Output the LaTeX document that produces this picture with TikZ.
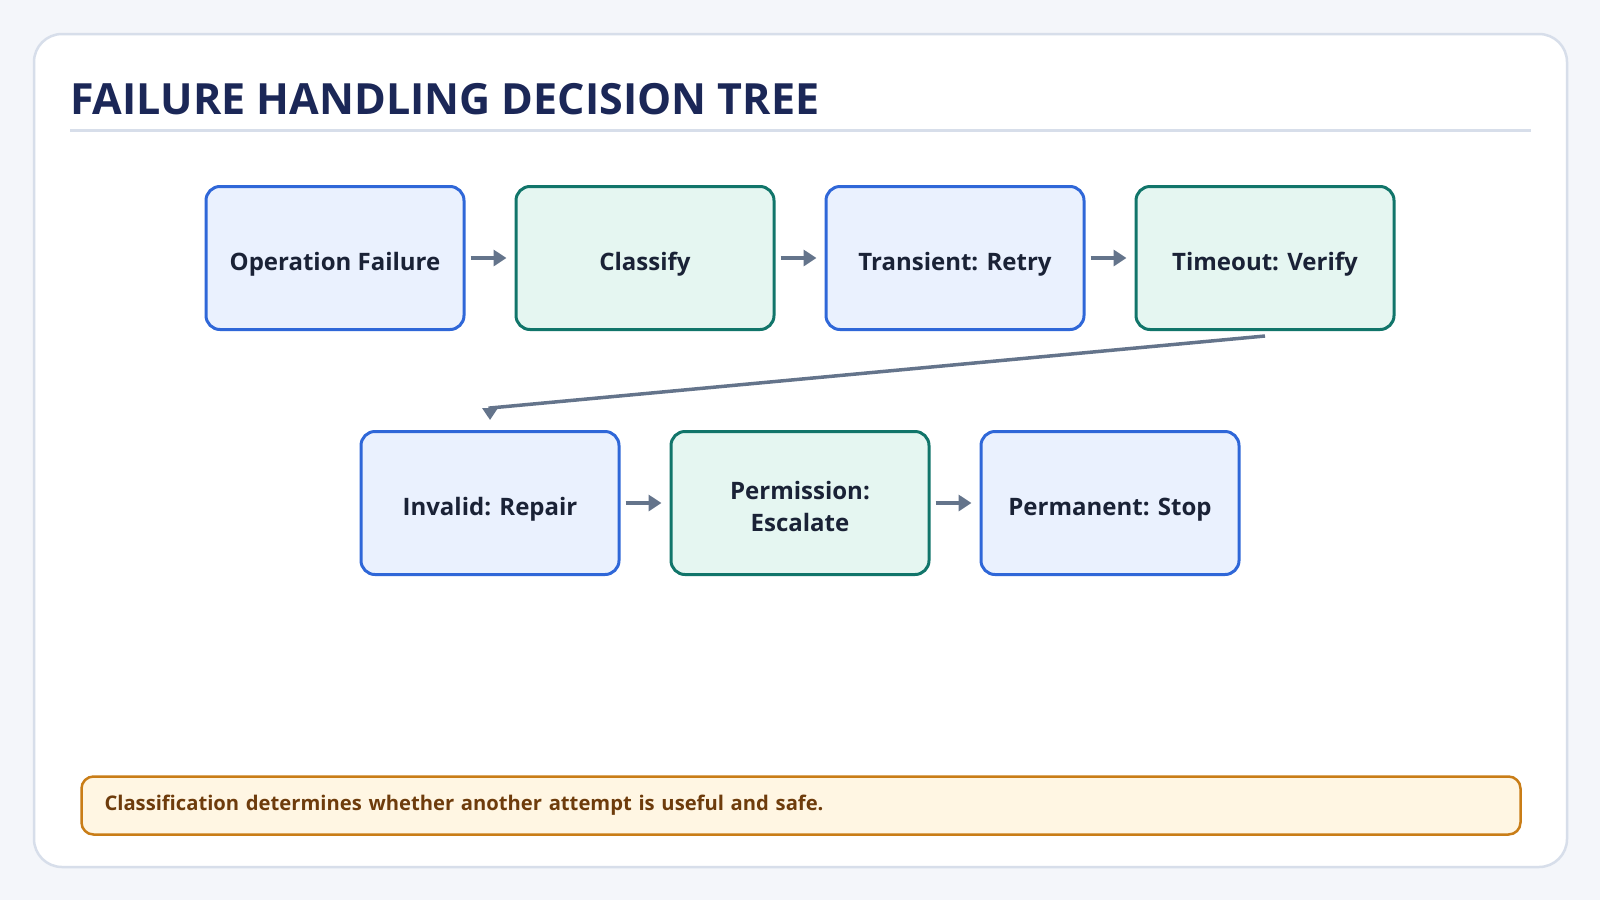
\documentclass[tikz,border=0pt]{standalone}
\usepackage{fontspec}
\setmainfont{Open Sans}
\usepackage{tikz}
\usetikzlibrary{arrows.meta,positioning,calc}

\definecolor{pagebg}{HTML}{F4F6FA}
\definecolor{cardline}{HTML}{D7DEEA}
\definecolor{titleink}{HTML}{1B2757}
\definecolor{blueline}{HTML}{2F67D8}
\definecolor{bluefill}{HTML}{EAF1FE}
\definecolor{tealline}{HTML}{11756A}
\definecolor{tealfill}{HTML}{E5F6F1}
\definecolor{flowink}{HTML}{64748B}
\definecolor{boxink}{HTML}{1A2236}
\definecolor{notefill}{HTML}{FFF6E3}
\definecolor{noteline}{HTML}{C97D17}
\definecolor{noteink}{HTML}{6E3C0C}

\tikzset{
  stage/.style={draw, line width=3pt, rounded corners=14pt, minimum width=258pt,
    minimum height=143pt, align=center, text=boxink, text height=24pt, text depth=0pt,
    font=\fontsize{24}{32}\selectfont\bfseries},
  bluestage/.style={stage, draw=blueline, fill=bluefill},
  tealstage/.style={stage, draw=tealline, fill=tealfill},
  flow/.style={-{Triangle[length=13pt,width=16pt]}, line width=4pt, draw=flowink,
    shorten <=5pt, shorten >=8pt},
}

\begin{document}
\begin{tikzpicture}[x=1pt, y=-1pt, node distance=49pt]
    % Page and card
    \fill[pagebg] (0,0) rectangle (1600,900);
    \draw[cardline, line width=2.5pt, fill=white, rounded corners=28pt] (34,34) rectangle (1567,867);
    \useasboundingbox (0,0) rectangle (1600,900);

    % Title and rule
    \node[anchor=base west, inner sep=0pt, text=titleink, font=\fontsize{43}{50}\selectfont\bfseries] (title) at (70,114) {FAILURE HANDLING DECISION TREE};
    \draw[cardline, line width=3pt] (70,130) -- (1531,130);

    % First row
    \node[bluestage] (failure) at (335,258) {Operation Failure};
    \node[tealstage, right=of failure] (classify) {Classify};
    \node[bluestage, right=of classify] (retry) {Transient: Retry};
    \node[tealstage, right=of retry] (verify) {Timeout: Verify};

    % Second row
    \node[bluestage] (repair) at (490,503) {Invalid: Repair};
    \node[tealstage, right=of repair, text height=56pt] (escalate) {Permission:\\Escalate};
    \node[bluestage, right=of escalate] (stop) {Permanent: Stop};

    % Arrows along the rows
    \draw[flow] (failure) -- (classify);
    \draw[flow] (classify) -- (retry);
    \draw[flow] (retry) -- (verify);
    \draw[flow] (repair) -- (escalate);
    \draw[flow] (escalate) -- (stop);

    % Wrap from first row to second row
    \coordinate (dropout) at ($(verify.south)+(0,5)$);
    \coordinate (dropin) at ($(repair.north)+(0,-22)$);
    \draw[flow, line width=3.5pt, -{Triangle[length=12pt,width=15pt]}, shorten <=0pt, shorten >=10pt] (dropout) -- (dropin) -- (repair.north);

    % Note at the bottom
    \node[draw=noteline, fill=notefill, line width=2.5pt, rounded corners=12pt,
      text width=1393pt, inner xsep=23pt, minimum height=58pt, align=left,
      text=noteink, font=\fontsize{20.2}{24}\selectfont\bfseries] (note) at (801,805.5)
      {Classification determines whether another attempt is useful and safe.};
\end{tikzpicture}
\end{document}
